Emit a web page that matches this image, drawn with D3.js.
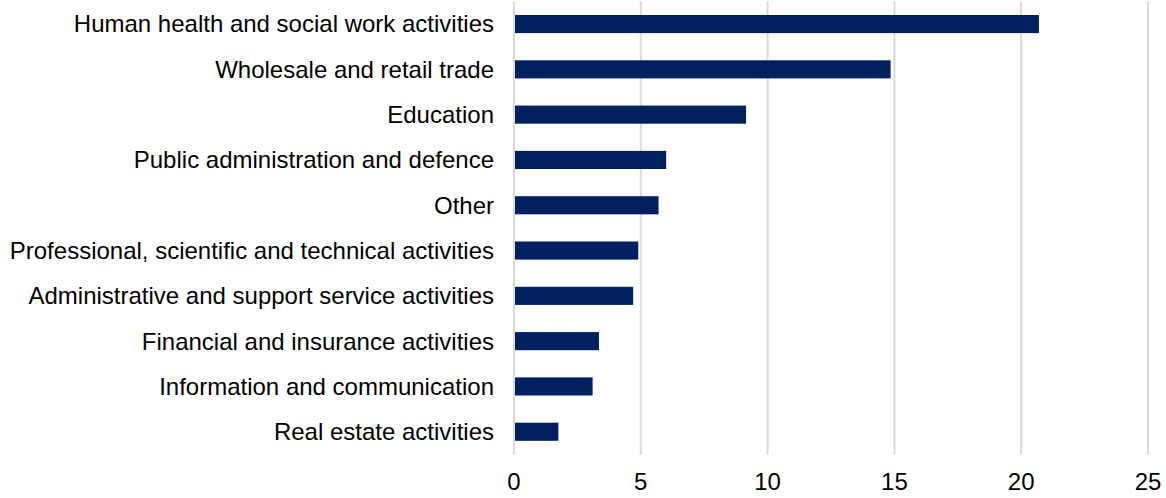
<!DOCTYPE html>
<html>
<head>
<meta charset="utf-8">
<script src="https://cdn.jsdelivr.net/npm/d3@7"></script>
<style>
  html, body { margin: 0; padding: 0; background: #fff; }
  svg { display: block; font-family: "Liberation Sans", Arial, sans-serif; }
</style>
</head>
<body>
<svg id="chart" width="1166" height="498"></svg>
<script>
// Employment share by industry (%)
const categories = [
  "Human health and social work activities",
  "Wholesale and retail trade",
  "Education",
  "Public administration and defence",
  "Other",
  "Professional, scientific and technical activities",
  "Administrative and support service activities",
  "Financial and insurance activities",
  "Information and communication",
  "Real estate activities"
];
const values = [20.7, 14.85, 9.15, 6.0, 5.7, 4.9, 4.7, 3.35, 3.1, 1.75];
const xTicks = [0, 5, 10, 15, 20, 25];

const svg = d3.select("#chart");

const x = d3.scaleLinear().domain([0, 25]).range([514, 1148]);
const y = d3.scaleBand()
  .domain(categories)
  .range([1.4, 454.4])
  .paddingInner(0.6)
  .paddingOuter(0.3);

// vertical gridlines
svg.append("g")
  .selectAll("line")
  .data(xTicks)
  .join("line")
  .attr("x1", d => x(d))
  .attr("x2", d => x(d))
  .attr("y1", y.range()[0])
  .attr("y2", y.range()[1])
  .attr("stroke", "#d9d9d9")
  .attr("stroke-width", 2);

// bars
svg.append("g")
  .selectAll("rect")
  .data(values)
  .join("rect")
  .attr("x", x(0) + 1)
  .attr("y", (d, i) => y(categories[i]))
  .attr("width", d => x(d) - x(0) - 1)
  .attr("height", y.bandwidth())
  .attr("fill", "#002060");

// category labels
svg.append("g")
  .selectAll("text")
  .data(categories)
  .join("text")
  .attr("x", 494)
  .attr("y", d => y(d) + y.bandwidth() / 2)
  .attr("dy", "0.35em")
  .attr("text-anchor", "end")
  .attr("font-size", 24)
  .attr("fill", "#000")
  .text(d => d);

// x-axis tick labels
svg.append("g")
  .selectAll("text")
  .data(xTicks)
  .join("text")
  .attr("x", d => x(d))
  .attr("y", 482)
  .attr("dy", "0.35em")
  .attr("text-anchor", "middle")
  .attr("font-size", 24)
  .attr("fill", "#000")
  .text(d => d);
</script>
</body>
</html>
